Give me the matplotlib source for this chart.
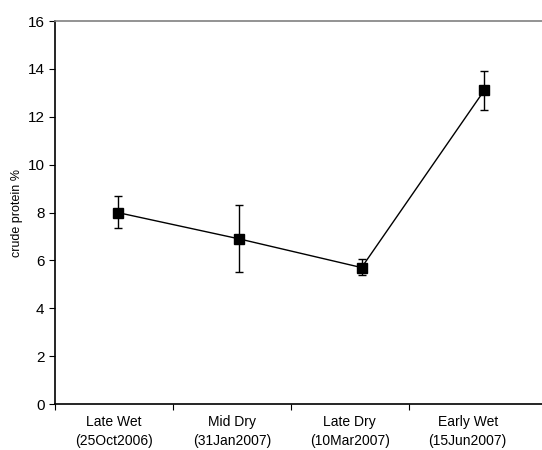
import numpy as np
import matplotlib.pyplot as plt

plt.rcParams['font.family'] = ['Liberation Sans', 'DejaVu Sans']

seasons = ['Late Wet\n(25Oct2006)', 'Mid Dry\n(31Jan2007)', 'Late Dry\n(10Mar2007)', 'Early Wet\n(15Jun2007)']
xpos = [0.53, 1.56, 2.60, 3.64]
protein = [8.0, 6.9, 5.7, 13.1]
err_hi = [8.7, 8.3, 6.05, 13.9]
err_lo = [7.35, 5.5, 5.4, 12.3]

protein = np.array(protein)
yerr = [protein - np.array(err_lo), np.array(err_hi) - protein]

fig = plt.figure(figsize=(5.42, 4.5), dpi=100)
ax = fig.add_axes([0.1015, 0.1022, 0.8985, 0.8511])

ax.errorbar(xpos, protein, yerr=yerr, color='black', lw=1.0, marker='s', ms=7,
            capsize=3.2, capthick=1.0, elinewidth=1.0)

ax.set_ylim(0, 16)
ax.set_yticks(np.arange(0, 17, 2))
ax.set_xlim(0, 4.13)
ax.set_xticks([0, 1, 2, 3])
ax.set_xticklabels([])
ax.set_xticks([0.5, 1.5, 2.5, 3.5], minor=True)
ax.set_xticklabels(seasons, minor=True, fontsize=10, linespacing=1.4)
ax.tick_params(axis='x', which='minor', length=0, pad=8)
ax.tick_params(axis='x', which='major', length=4, width=0.8, direction='out')
ax.tick_params(axis='y', length=4, width=0.8, direction='out', labelsize=11)

ax.set_ylabel('crude protein %', fontsize=9)
ax.yaxis.set_label_coords(-0.066, 0.5)

ax.spines['right'].set_visible(False)
ax.spines['top'].set_color('#808080')
ax.spines['top'].set_linewidth(1.2)
ax.spines['left'].set_linewidth(1.2)
ax.spines['bottom'].set_linewidth(1.2)

fig.savefig('out.png', dpi=100)
